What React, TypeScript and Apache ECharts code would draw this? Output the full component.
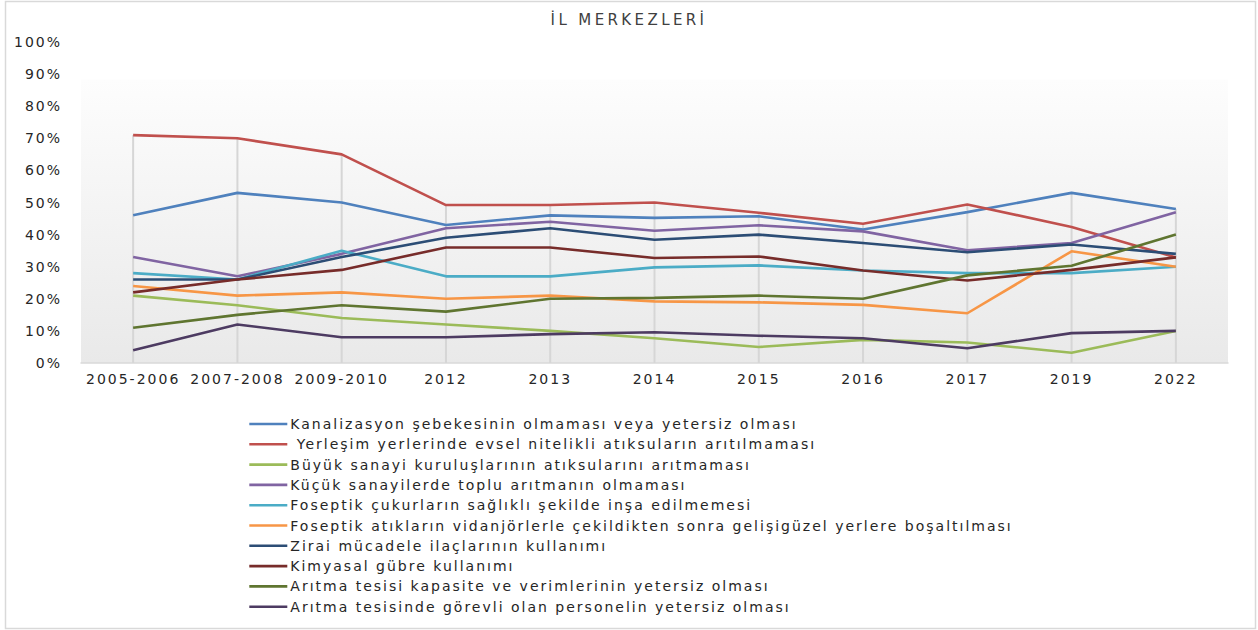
import React, { useEffect, useRef } from 'react';
import * as echarts from 'echarts';

const categories = ['2005-2006', '2007-2008', '2009-2010', '2012', '2013', '2014', '2015', '2016', '2017', '2019', '2022'];

const seriesNames = [
  'Kanalizasyon şebekesinin olmaması veya yetersiz olması',
  ' Yerleşim yerlerinde evsel nitelikli atıksuların arıtılmaması',
  'Büyük sanayi kuruluşlarının atıksularını arıtmaması',
  'Küçük sanayilerde toplu arıtmanın olmaması',
  'Foseptik çukurların sağlıklı şekilde inşa edilmemesi',
  'Foseptik atıkların vidanjörlerle çekildikten sonra gelişigüzel yerlere boşaltılması',
  'Zirai mücadele ilaçlarının kullanımı',
  'Kimyasal gübre kullanımı',
  'Arıtma tesisi kapasite ve verimlerinin yetersiz olması',
  'Arıtma tesisinde görevli olan personelin yetersiz olması',
];

const kanalizasyon = [46, 53, 50, 43, 46, 45.2, 45.7, 41.6, 47, 53, 48];
const yerlesim = [71, 70, 65, 49.2, 49.2, 50, 46.8, 43.4, 49.4, 42.4, 32.9];
const buyukSanayi = [21, 18, 14, 12, 10, 7.7, 5, 7.2, 6.4, 3.2, 10];
const kucukSanayi = [33, 27, 34, 42, 44, 41.2, 42.9, 41, 35.1, 37.4, 47];
const foseptikCukur = [28, 26, 35, 27, 27, 29.8, 30.4, 28.8, 28, 28, 30];
const foseptikAtik = [24, 21, 22, 20, 21, 19.2, 18.9, 18.1, 15.5, 34.8, 30];
const zirai = [26, 26, 33, 39, 42, 38.4, 40, 37.4, 34.5, 36.9, 34];
const kimyasal = [22, 26, 29, 36, 36, 32.7, 33.2, 28.8, 25.7, 29, 32.9];
const aritmaKapasite = [11, 15, 18, 16, 20, 20.3, 21, 20, 27.3, 30.3, 40];
const aritmaPersonel = [4, 12, 8, 8, 9, 9.6, 8.5, 7.7, 4.6, 9.3, 10];

const allValues = [
  kanalizasyon, yerlesim, buyukSanayi, kucukSanayi, foseptikCukur,
  foseptikAtik, zirai, kimyasal, aritmaKapasite, aritmaPersonel,
];

const colors = ['#4F81BD', '#C0504D', '#9BBB59', '#8064A2', '#4BACC6', '#F79646', '#2C4D75', '#772C2A', '#5F7530', '#4D3B62'];

const titleText = 'İL MERKEZLERİ';
const FONT = 'DejaVu Sans';

export default function App() {
  const ref = useRef<HTMLDivElement>(null);

  useEffect(() => {
    if (!ref.current) return;
    const chart = echarts.init(ref.current, null, { renderer: 'svg' });

    const dropData = categories.map((_, i) => [i, Math.max(...allValues.map((s) => s[i]))]);

    const lineSeries = allValues.map((vals, k) => ({
      type: 'line',
      name: seriesNames[k],
      data: vals,
      symbol: 'none',
      z: 3,
      lineStyle: { color: colors[k], width: 2.6 },
      itemStyle: { color: colors[k] },
    }));

    chart.setOption({
      animation: false,
      backgroundColor: '#ffffff',
      graphic: [
        {
          type: 'rect',
          shape: { x: 5.5, y: 1.5, width: 1250, height: 627 },
          style: { fill: 'none', stroke: '#d9d9d9', lineWidth: 1.5 },
          z: 0,
        },
        {
          type: 'text',
          x: 629,
          y: 12,
          style: {
            text: titleText,
            fontSize: 15,
            fontFamily: FONT,
            fill: '#404040',
            textAlign: 'center',
            textVerticalAlign: 'top',
          },
        },
      ],
      grid: {
        left: 81,
        right: 30,
        top: 42,
        bottom: 267,
        show: true,
        borderWidth: 0,
        backgroundColor: new echarts.graphic.LinearGradient(0, 0, 0, 1, [
          { offset: 0, color: '#ffffff' },
          { offset: 0.115, color: '#ffffff' },
          { offset: 0.118, color: '#fdfdfd' },
          { offset: 1, color: '#e9e9e9' },
        ]),
      },
      legend: {
        orient: 'vertical',
        left: 243,
        top: 412,
        itemWidth: 38,
        itemHeight: 14,
        itemGap: 6.3,
        data: seriesNames,
        itemStyle: { opacity: 0 },
        lineStyle: { width: 2.6 },
        textStyle: { fontSize: 14, fontFamily: FONT, color: '#262626', padding: [0, 0, 0, -2] },
      },
      xAxis: {
        type: 'category',
        data: categories,
        boundaryGap: true,
        axisLine: { show: true, lineStyle: { color: '#d9d9d9', width: 1.5 } },
        axisTick: { show: false },
        axisLabel: { fontSize: 14, fontFamily: FONT, color: '#262626', margin: 9, interval: 0 },
        splitLine: { show: false },
      },
      yAxis: {
        type: 'value',
        min: 0,
        max: 100,
        interval: 10,
        axisLine: { show: false },
        axisTick: { show: false },
        splitLine: { show: false },
        axisLabel: { fontSize: 14, fontFamily: FONT, color: '#262626', margin: 19, formatter: '{value}%' },
      },
      series: [
        {
          type: 'custom',
          name: 'drop',
          silent: true,
          z: 1,
          data: dropData,
          encode: { x: 0, y: 1 },
          renderItem: (params: any, api: any) => {
            const top = api.coord([api.value(0), api.value(1)]);
            const bottom = api.coord([api.value(0), 0]);
            return {
              type: 'line',
              shape: { x1: top[0], y1: top[1], x2: bottom[0], y2: bottom[1] },
              style: { stroke: '#d6d6d6', lineWidth: 2 },
            };
          },
        },
        ...lineSeries,
      ],
    });

    return () => chart.dispose();
  }, []);

  return (
    <>
      <style>{`
        #chartbox text { letter-spacing: 2px; white-space: pre; }
        #chartbox text[style*="15px"] { letter-spacing: 3.4px; }
      `}</style>
      <div
        id="chartbox"
        ref={ref}
        style={{ position: 'absolute', left: 0, top: 0, width: 1258, height: 630 }}
      />
    </>
  );
}
